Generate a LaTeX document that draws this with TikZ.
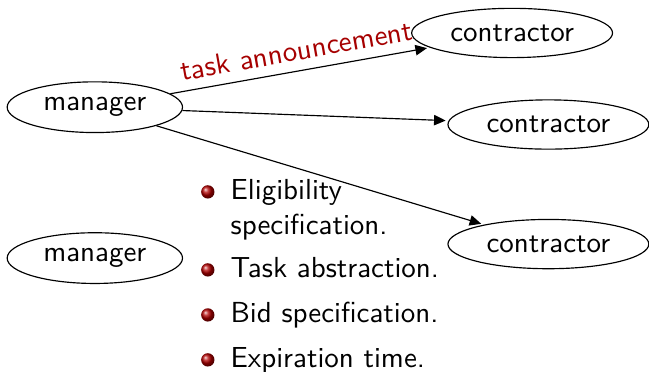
\documentclass[tikz,border=0pt]{standalone}
\usepackage{tikz}
\usetikzlibrary{
    arrows.meta,
    shapes,
    shadings,
    petri,
    positioning,
}

\begin{document}
\begin{tikzpicture}[>={Triangle[length=4pt,width=3.6pt]},font=\sffamily]

    \tikzstyle{agent}=[ellipse, draw=black, thin, inner sep=0pt]
    \tikzstyle{manager}=[agent, minimum width=60.5pt, minimum height=17.5pt]
    \tikzstyle{contractor}=[agent, minimum width=69.3pt, minimum height=17pt]
    \tikzstyle{msg}=[sloped, above, text=red!65!black]
    \tikzstyle{ballbullet}=[circle, shading=ball, ball color=red!70!black, minimum size=4.6pt, inner sep=0pt]
    \tikzstyle{item}=[anchor=base west, align=left, inner sep=0pt]

    % Frame
    \useasboundingbox (0,0) rectangle (7.87,4.51);

    % Managers
    \node at (1.15, 3.21)  [manager]    (M1)  {manager};
    \node at (1.15, 1.38)  [manager]    (M2)  {manager};

    % Contractors
    \node at (6.21, 4.11)  [contractor] (C1)  {contractor}
        edge  [pre]  node [msg] {task announcement}  (M1);
    \node at (6.65, 3.00)  [contractor] (C2)  {contractor}
        edge  [pre]  (M1);
    \node at (6.65, 1.55)  [contractor] (C3)  {contractor}
        edge  [pre]  (M1);

    % Contents of the announcement (base = last line)
    \node at (2.79, 1.663) [item] (I1) {Eligibility\\specification.};
    \node at (2.79, 1.140) [item] (I2) {Task abstraction.};
    \node at (2.79, 0.594) [item] (I3) {Bid specification.};
    \node at (2.79, 0.049) [item] (I4) {Expiration time.};
    \node at (2.52, 2.183) [ballbullet] (B1) {};
    \node at (2.52, 1.237) [ballbullet] (B2) {};
    \node at (2.52, 0.691) [ballbullet] (B3) {};
    \node at (2.52, 0.146) [ballbullet] (B4) {};

\end{tikzpicture}
\end{document}
